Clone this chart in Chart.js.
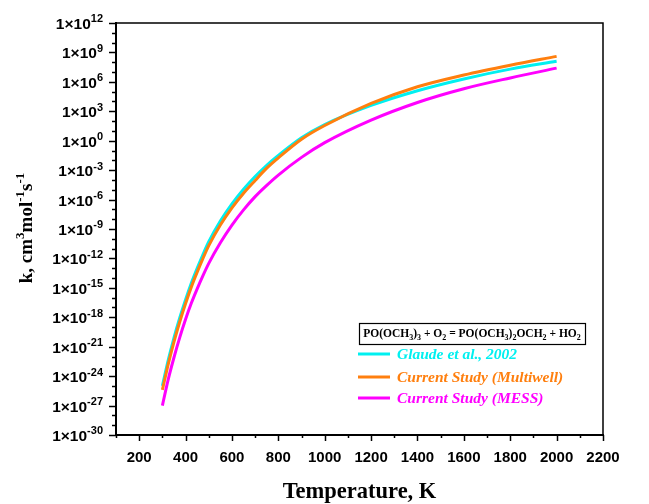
<!DOCTYPE html>
<html>
<head>
<meta charset="utf-8">
<script src="https://cdn.jsdelivr.net/npm/chart.js@4.4.0/dist/chart.umd.min.js"></script>
<style>
  html, body { margin: 0; padding: 0; background: #fff; }
  #wrap { width: 649px; height: 504px; }
</style>
</head>
<body>
<div id="wrap"><canvas id="rateChart" width="649" height="504"></canvas></div>
<script>
// Temperatures (K) and log10(k)
const temps = [300, 325, 350, 375, 400, 425, 450, 475, 500, 550, 600, 650, 700, 750, 800, 900, 1000, 1200, 1400, 1600, 1800, 2000];
const glaudeLog    = [-25.0, -22.4, -20.1, -18.05, -16.2, -14.5, -13.0, -11.6, -10.3, -8.2, -6.45, -4.95, -3.65, -2.5, -1.5, 0.3, 1.65, 3.6, 5.1, 6.3, 7.3, 8.1];
const multiwellLog = [-25.4, -22.8, -20.5, -18.45, -16.6, -14.9, -13.4, -12.0, -10.7, -8.6, -6.85, -5.35, -4.05, -2.8, -1.75, 0.15, 1.55, 3.8, 5.5, 6.7, 7.7, 8.6];
const messLog      = [-27.0, -24.35, -22.1, -20.05, -18.2, -16.55, -15.1, -13.75, -12.5, -10.4, -8.6, -7.05, -5.7, -4.55, -3.5, -1.7, -0.2, 2.1, 3.9, 5.3, 6.4, 7.4];

const seriesNames = ['Glaude et al., 2002', 'Current Study (Multiwell)', 'Current Study (MESS)'];
const seriesColors = ['#00F0F0', '#FF7F0E', '#FF00FF'];

const xTickValues = [200, 400, 600, 800, 1000, 1200, 1400, 1600, 1800, 2000, 2200];
const yExponents = [12, 9, 6, 3, 0, -3, -6, -9, -12, -15, -18, -21, -24, -27, -30];

const toPoints = logs => temps.map((t, i) => ({ x: t, y: Math.pow(10, logs[i]) }));

// draws text made of [string, 'n'|'sup'|'sub'] pieces
function drawRich(ctx, parts, x, y, size, family, style) {
    let cx = x;
    parts.forEach(([txt, kind]) => {
        const fs = kind === 'n' ? size : Math.round(size * 0.7);
        ctx.font = `${style} ${fs}px ${family}`;
        const dy = kind === 'sup' ? -size * 0.42 : kind === 'sub' ? size * 0.25 : 0;
        ctx.fillText(txt, cx, y + dy);
        cx += ctx.measureText(txt).width;
    });
    return cx - x;
}
function richWidth(ctx, parts, size, family, style) {
    let w = 0;
    parts.forEach(([txt, kind]) => {
        const fs = kind === 'n' ? size : Math.round(size * 0.7);
        ctx.font = `${style} ${fs}px ${family}`;
        w += ctx.measureText(txt).width;
    });
    return w;
}

const decorPlugin = {
    id: 'decor',
    afterDraw(chart) {
        const ctx = chart.ctx;
        const area = chart.chartArea;
        const xs = chart.scales.x;
        const ys = chart.scales.y;
        const sans = '"Liberation Sans", Arial, sans-serif';
        const serif = '"Liberation Serif", "Times New Roman", serif';
        ctx.save();
        ctx.strokeStyle = '#000';
        ctx.fillStyle = '#000';

        // top and right frame
        ctx.lineWidth = 1.5;
        ctx.beginPath();
        ctx.moveTo(area.left, area.top);
        ctx.lineTo(area.right, area.top);
        ctx.lineTo(area.right, area.bottom);
        ctx.stroke();

        // y ticks, one per decade
        for (let n = -30; n <= 12; n++) {
            const py = Math.round(ys.getPixelForValue(Math.pow(10, n))) + 0.5;
            const len = n % 3 === 0 ? 7 : 4;
            ctx.beginPath();
            ctx.moveTo(area.left - len, py);
            ctx.lineTo(area.left, py);
            ctx.stroke();
        }
        // y labels
        ctx.textBaseline = 'alphabetic';
        ctx.textAlign = 'left';
        yExponents.forEach(n => {
            const py = ys.getPixelForValue(Math.pow(10, n));
            const parts = [['1×10', 'n'], [String(n), 'sup']];
            const w = richWidth(ctx, parts, 15.5, sans, 'bold');
            drawRich(ctx, parts, area.left - 13 - w, py + 6, 15.5, sans, 'bold');
        });

        // x ticks
        for (let v = 100; v <= 2200; v += 100) {
            const px = Math.round(xs.getPixelForValue(v)) + 0.5;
            const len = v % 200 === 0 ? 6 : 3;
            ctx.beginPath();
            ctx.moveTo(px, area.bottom);
            ctx.lineTo(px, area.bottom + len);
            ctx.stroke();
        }
        ctx.font = `bold 15px ${sans}`;
        ctx.textAlign = 'center';
        ctx.textBaseline = 'middle';
        xTickValues.forEach(v => ctx.fillText(String(v), xs.getPixelForValue(v), 458));

        // axis titles
        ctx.font = `bold 22.5px ${serif}`;
        ctx.textBaseline = 'alphabetic';
        ctx.fillText('Temperature, K', (area.left + area.right) / 2, 498);

        const yTitle = [['k, cm', 'n'], ['3', 'sup'], ['mol', 'n'], ['-1', 'sup'], ['s', 'n'], ['-1', 'sup']];
        const tw = richWidth(ctx, yTitle, 19, serif, 'bold');
        ctx.translate(32, 228);
        ctx.rotate(-Math.PI / 2);
        ctx.textAlign = 'left';
        drawRich(ctx, yTitle, -tw / 2, 0, 19, serif, 'bold');
        ctx.setTransform(1, 0, 0, 1, 0, 0);

        // legend header box
        const bx = 359, by = 323, bw = 226, bh = 21;
        ctx.lineWidth = 1.2;
        ctx.strokeRect(bx + 0.5, by + 0.5, bw, bh);
        const header = [['PO(OCH', 'n'], ['3', 'sub'], [')', 'n'], ['3', 'sub'], [' + O', 'n'], ['2', 'sub'],
            [' = PO(OCH', 'n'], ['3', 'sub'], [')', 'n'], ['2', 'sub'], ['OCH', 'n'], ['2', 'sub'], [' + HO', 'n'], ['2', 'sub']];
        const hw = richWidth(ctx, header, 11.5, serif, 'bold');
        ctx.textAlign = 'left';
        drawRich(ctx, header, bx + (bw - hw) / 2, by + 14, 11.5, serif, 'bold');

        // legend entries
        const rows = [354, 377, 398];
        chart.data.datasets.forEach((ds, i) => {
            ctx.strokeStyle = ds.borderColor;
            ctx.lineWidth = 3;
            ctx.beginPath();
            ctx.moveTo(358, rows[i]);
            ctx.lineTo(390, rows[i]);
            ctx.stroke();
            ctx.fillStyle = ds.borderColor;
            ctx.font = `italic bold 15.5px ${serif}`;
            ctx.textBaseline = 'middle';
            ctx.fillText(ds.label, 397, rows[i] + 1);
        });
        ctx.restore();
    }
};

const datasets = [glaudeLog, multiwellLog, messLog].map((logs, i) => ({
    label: seriesNames[i],
    data: toPoints(logs),
    borderColor: seriesColors[i],
    backgroundColor: seriesColors[i],
    borderWidth: 3,
    pointRadius: 0,
    fill: false,
    cubicInterpolationMode: 'monotone'
}));
// Multiwell drawn over Glaude, MESS on top
datasets[0].order = 2;
datasets[1].order = 1;
datasets[2].order = 0;

const ctx = document.getElementById('rateChart').getContext('2d');
new Chart(ctx, {
    type: 'line',
    data: { datasets },
    options: {
        responsive: false,
        animation: false,
        devicePixelRatio: 1,
        layout: { padding: { top: 23, right: 46, left: 0, bottom: 0 } },
        plugins: { legend: { display: false }, tooltip: { enabled: false } },
        scales: {
            x: {
                type: 'linear',
                min: 100,
                max: 2200,
                grid: { display: false },
                border: { display: true, color: '#000', width: 2 },
                ticks: { display: false },
                afterFit: s => { s.height = 69; }
            },
            y: {
                type: 'logarithmic',
                min: 1e-30,
                max: 1e12,
                grid: { display: false },
                border: { display: true, color: '#000', width: 2 },
                ticks: { display: false },
                afterFit: s => { s.width = 116; }
            }
        }
    },
    plugins: [decorPlugin]
});
</script>
</body>
</html>
